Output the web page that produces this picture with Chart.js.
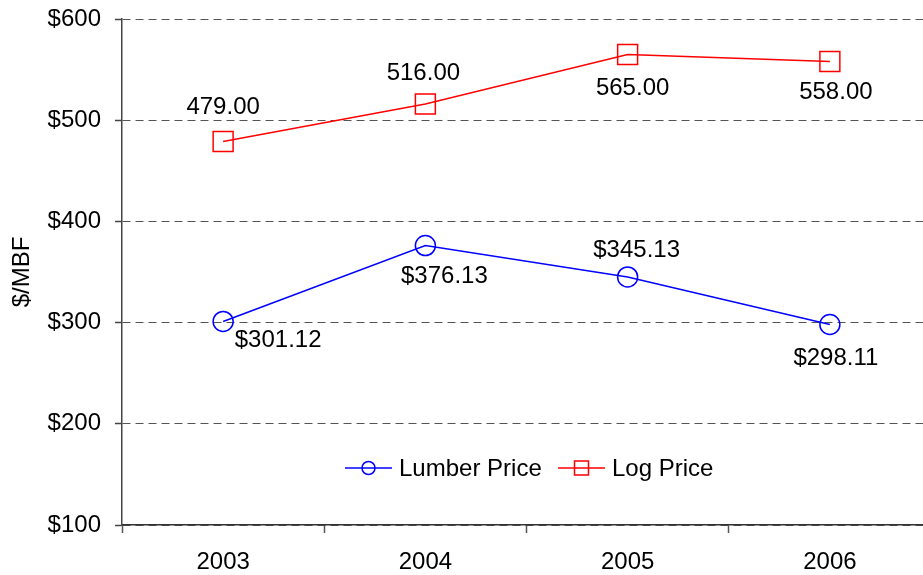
<!DOCTYPE html>
<html lang="en">

<head>
    <meta charset="UTF-8">
    <title>Lumber and Log Prices</title>
    <script src="https://cdn.jsdelivr.net/npm/chart.js"></script>
    <style>
        html, body {
            margin: 0;
            padding: 0;
            background: #fff;
            overflow: hidden;
        }
        canvas {
            display: block;
        }
    </style>
</head>

<body>
    <canvas id="priceChart" width="940" height="575"></canvas>

    <script>
        const years = ['2003', '2004', '2005', '2006'];
        const lumberPrice = [301.12, 376.13, 345.13, 298.11];
        const logPrice = [479.00, 516.00, 565.00, 558.00];
        const yTicks = [100, 200, 300, 400, 500, 600];

        const FONT = "'Liberation Sans', Arial, sans-serif";

        // where each value label sits relative to its point
        const lumberLabelPos = [[55, 19], [19, 31], [9, -27], [6, 34]];
        const logLabelPos = [[0, -34], [-2, -31], [5, 34], [6, 31]];

        // value labels next to the points
        const valueLabels = {
            id: 'valueLabels',
            afterDatasetsDraw(chart) {
                const ctx = chart.ctx;
                ctx.save();
                ctx.font = '24px ' + FONT;
                ctx.fillStyle = '#000';
                ctx.textAlign = 'center';
                ctx.textBaseline = 'middle';
                chart.data.datasets.forEach((ds, di) => {
                    const meta = chart.getDatasetMeta(di);
                    meta.data.forEach((pt, i) => {
                        const [dx, dy] = ds.labelPos[i];
                        ctx.fillText(ds.labelPrefix + ds.data[i].toFixed(2), pt.x + dx, pt.y + dy);
                    });
                });
                ctx.restore();
            }
        };

        // legend drawn inside the plot: line + marker + text
        const lineLegend = {
            id: 'lineLegend',
            afterDraw(chart) {
                const ctx = chart.ctx;
                const y = 468;
                const items = [
                    { ds: chart.data.datasets[0], x: 345 },
                    { ds: chart.data.datasets[1], x: 558 }
                ];
                ctx.save();
                ctx.font = '24px ' + FONT;
                ctx.textBaseline = 'middle';
                items.forEach(it => {
                    const ds = it.ds;
                    ctx.strokeStyle = ds.borderColor;
                    ctx.lineWidth = 1.5;
                    ctx.beginPath();
                    ctx.moveTo(it.x, y);
                    ctx.lineTo(it.x + 47, y);
                    ctx.stroke();
                    const cx = it.x + 23.5;
                    ctx.beginPath();
                    if (ds.pointStyle === 'circle') {
                        ctx.arc(cx, y, 6.5, 0, Math.PI * 2);
                    } else {
                        ctx.rect(cx - 7, y - 7, 14, 14);
                    }
                    ctx.stroke();
                    ctx.fillStyle = '#000';
                    ctx.fillText(ds.label, it.x + 54, y + 1);
                });
                ctx.restore();
            }
        };

        const ctx = document.getElementById('priceChart').getContext('2d');
        new Chart(ctx, {
            type: 'line',
            data: {
                labels: years,
                datasets: [{
                    label: 'Lumber Price',
                    data: lumberPrice,
                    borderColor: '#0000ff',
                    backgroundColor: 'transparent',
                    borderWidth: 1.5,
                    pointStyle: 'circle',
                    pointRadius: 10,
                    pointBorderWidth: 1.5,
                    pointBorderColor: '#0000ff',
                    pointBackgroundColor: 'transparent',
                    tension: 0,
                    labelPrefix: '$',
                    labelPos: lumberLabelPos
                }, {
                    label: 'Log Price',
                    data: logPrice,
                    borderColor: '#ff0000',
                    backgroundColor: 'transparent',
                    borderWidth: 1.5,
                    pointStyle: 'rect',
                    pointRadius: 14.1,
                    pointBorderWidth: 1.5,
                    pointBorderColor: '#ff0000',
                    pointBackgroundColor: 'transparent',
                    tension: 0,
                    labelPrefix: '',
                    labelPos: logLabelPos
                }]
            },
            options: {
                responsive: false,
                animation: false,
                layout: {
                    autoPadding: false,
                    padding: { top: 19, right: 9, bottom: 0, left: 0 }
                },
                plugins: {
                    legend: { display: false },
                    tooltip: { enabled: false }
                },
                scales: {
                    x: {
                        offset: true,
                        grid: {
                            offset: true,
                            drawOnChartArea: false,
                            drawTicks: true,
                            tickLength: 8,
                            tickColor: '#555',
                            tickWidth: 1.5
                        },
                        border: { color: '#333', width: 1.5 },
                        ticks: {
                            color: '#000',
                            font: { family: FONT, size: 24 },
                            padding: 15,
                            maxRotation: 0
                        },
                        afterFit: s => {
                            s.height = 50;
                            s.paddingLeft = 0;
                            s.paddingRight = 0;
                        }
                    },
                    y: {
                        min: 100,
                        max: 600,
                        afterBuildTicks: s => { s.ticks = yTicks.map(v => ({ value: v })); },
                        grid: {
                            color: '#555',
                            lineWidth: 1,
                            tickLength: 7,
                            tickColor: '#444',
                            tickWidth: 1.5,
                            tickBorderDash: []
                        },
                        border: { color: '#444', width: 1.5, dash: [8, 5] },
                        ticks: {
                            color: '#000',
                            font: { family: FONT, size: 24 },
                            padding: 14,
                            callback: v => '$' + v
                        },
                        title: {
                            display: true,
                            text: '$/MBF',
                            color: '#000',
                            font: { family: FONT, size: 24 },
                            padding: { top: 8, bottom: 0 }
                        },
                        afterFit: s => {
                            s.width = 122;
                            s.paddingTop = 0;
                            s.paddingBottom = 0;
                        }
                    }
                }
            },
            plugins: [valueLabels, lineLegend]
        });
    </script>
</body>

</html>
